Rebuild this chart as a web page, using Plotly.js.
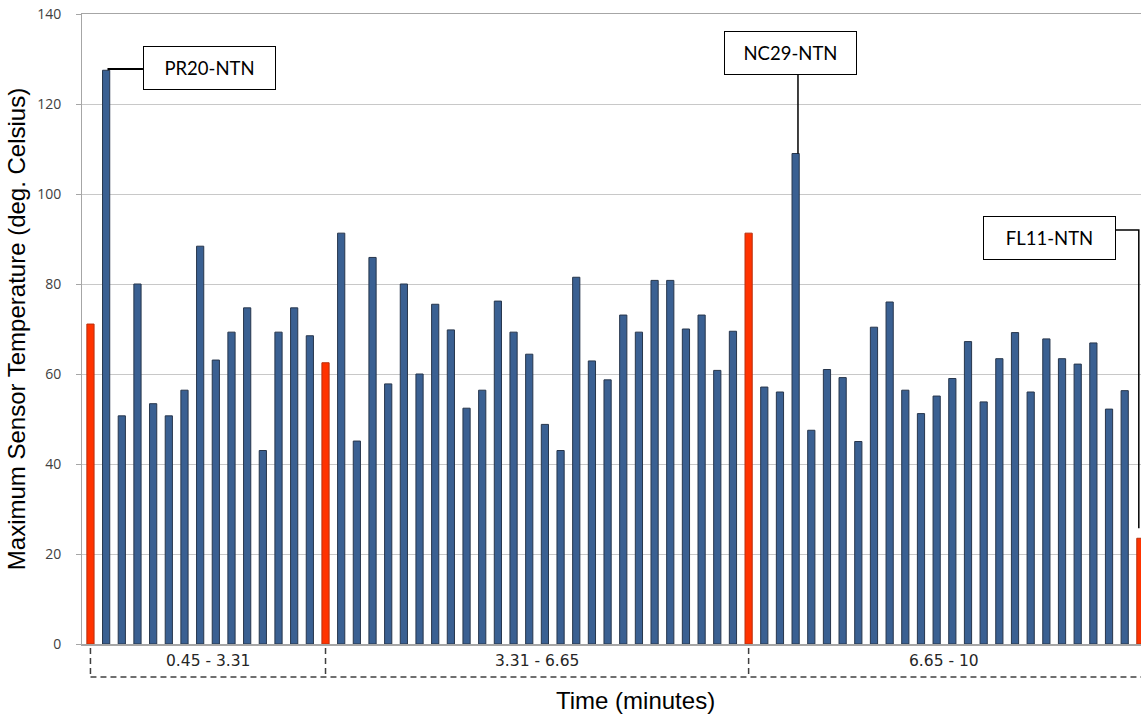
<!DOCTYPE html>
<html>
<head>
<meta charset="utf-8">
<script src="https://cdn.plot.ly/plotly-3.0.1.min.js"></script>
<style>html,body{margin:0;padding:0;background:#fff;}#chart{width:1141px;height:716px;}</style>
</head>
<body>
<div id="chart"></div>
<script>
// Maximum sensor temperature per sensor (deg. Celsius), in time order
const sensorValues = [
  71.1, 127.5, 50.7, 80.0, 53.4, 50.7, 56.4, 88.4, 63.1, 69.3, 74.7, 43.0, 69.3, 74.7, 68.5,
  62.5, 91.3, 45.1, 85.9, 57.8, 80.0, 60.0, 75.5, 69.8, 52.4, 56.4, 76.2, 69.3, 64.4, 48.8,
  43.0, 81.5, 62.9, 58.7, 73.1, 69.3, 80.8, 80.8, 70.0, 73.1, 60.8, 69.5,
  91.3, 57.1, 56.0, 109.0, 47.5, 61.0, 59.2, 45.0, 70.4, 76.0, 56.4, 51.2, 55.1, 59.0,
  67.2, 53.8, 63.4, 69.2, 56.0, 67.8, 63.4, 62.2, 66.9, 52.2, 56.3,
  23.5
];
// sensors that mark the start of each time window (drawn red)
const boundarySensors = [0, 15, 42, 67];
// time windows (minutes)
const windowLabels = ['0.45 - 3.31', '3.31 - 6.65', '6.65 - 10'];
// called-out sensors
const calloutNames = ['PR20-NTN', 'NC29-NTN', 'FL11-NTN'];
const calloutSensors = [1, 45, 67];
const yTicks = [0, 20, 40, 60, 80, 100, 120, 140];

const xIdx = sensorValues.map((v, i) => i);
const fills = xIdx.map(i => boundarySensors.includes(i) ? '#FF3300' : '#3A6092');
const edges = xIdx.map(i => boundarySensors.includes(i) ? '#B8300E' : '#27364C');

const trace = {
  type: 'bar',
  x: xIdx,
  y: sensorValues,
  width: 0.46,
  marker: { color: fills, line: { color: edges, width: 1 } },
  hoverinfo: 'x+y'
};

const shapes = [];
const annotations = [];

// bracket for time windows
const bTop = -0.0063, bBot = -0.0524;
const bStyle = { color: '#404040', width: 1.5, dash: '6px,4px' };
boundarySensors.slice(0, 3).forEach(b => {
  shapes.push({ type: 'line', xref: 'x', yref: 'paper', x0: b, x1: b, y0: bTop, y1: bBot, line: bStyle });
});
shapes.push({ type: 'line', xref: 'x', yref: 'paper', x0: boundarySensors[0], x1: 67.6, y0: bBot, y1: bBot, line: bStyle });
windowLabels.forEach((t, k) => {
  annotations.push({
    xref: 'x', yref: 'paper', x: (boundarySensors[k] + boundarySensors[k + 1]) / 2, y: -0.027,
    text: t, showarrow: false, xanchor: 'center', yanchor: 'middle',
    font: { family: 'DejaVu Sans, Verdana, sans-serif', size: 15.5, color: '#262626' }
  });
});

// callout boxes (box centre in axis units) and elbow connectors
const boxPos = [[7.6, 128.0], [44.67, 131.4], [61.2, 90.3]];
calloutNames.forEach((name, k) => {
  annotations.push({
    xref: 'x', yref: 'y', x: boxPos[k][0], y: boxPos[k][1],
    text: name, showarrow: false, xanchor: 'center', yanchor: 'middle',
    width: 131, height: 42, borderpad: 0, bgcolor: '#ffffff',
    bordercolor: '#000000', borderwidth: 1,
    font: { family: 'Lato, Open Sans, sans-serif', size: 18.5, color: '#000000' }
  });
});
const v0 = sensorValues[calloutSensors[0]];
shapes.push({ type: 'path', xref: 'x', yref: 'y', path: `M ${calloutSensors[0] + 0.15} ${v0} L ${calloutSensors[0] + 0.15} 127.8 L 3.35 127.8`, line: { color: '#000', width: 2 } });
const v1 = sensorValues[calloutSensors[1]];
shapes.push({ type: 'line', xref: 'x', yref: 'y', x0: calloutSensors[1] + 0.15, x1: calloutSensors[1] + 0.15, y0: v1, y1: 126.7, line: { color: '#000', width: 1.5 } });
const v2 = sensorValues[calloutSensors[2]];
shapes.push({ type: 'path', xref: 'x', yref: 'y', path: `M 65.44 92 L ${calloutSensors[2] - 0.1} 92 L ${calloutSensors[2] - 0.1} ${v2 + 2.2}`, line: { color: '#000', width: 1.5 } });

// x axis title (offset to the right as in the original)
annotations.push({
  xref: 'paper', yref: 'paper', x: 0.523, y: -0.089, text: 'Time (minutes)', showarrow: false,
  xanchor: 'center', yanchor: 'middle',
  font: { family: 'Liberation Sans, Arial, sans-serif', size: 24, color: '#000' }
});

const layout = {
  width: 1141, height: 716,
  margin: { l: 82, r: 0, t: 14, b: 72 },
  paper_bgcolor: '#ffffff', plot_bgcolor: '#ffffff',
  showlegend: false,
  bargap: 0,
  xaxis: {
    range: [-0.54, 67.04], showticklabels: false, ticks: '', showgrid: false, zeroline: false,
    showline: true, mirror: true, linecolor: '#a6a6a6', linewidth: 1.5, fixedrange: true
  },
  yaxis: {
    range: [0, 140], tickvals: yTicks, ticktext: yTicks.map(String),
    showgrid: true, gridcolor: '#c8c8c8', gridwidth: 1, zeroline: false,
    showline: true, linecolor: '#a6a6a6', linewidth: 1,
    ticks: 'outside', ticklen: 5, tickcolor: '#a6a6a6', ticklabelstandoff: 12,
    tickfont: { family: 'Open Sans, sans-serif', size: 14, color: '#404040' },
    title: { text: 'Maximum Sensor Temperature (deg. Celsius)', standoff: 4,
      font: { family: 'Liberation Sans, Arial, sans-serif', size: 24, color: '#000' } },
    automargin: false, fixedrange: true
  },
  shapes: shapes,
  annotations: annotations
};

Plotly.newPlot('chart', [trace], layout, { displayModeBar: false, staticPlot: true });
</script>
</body>
</html>
